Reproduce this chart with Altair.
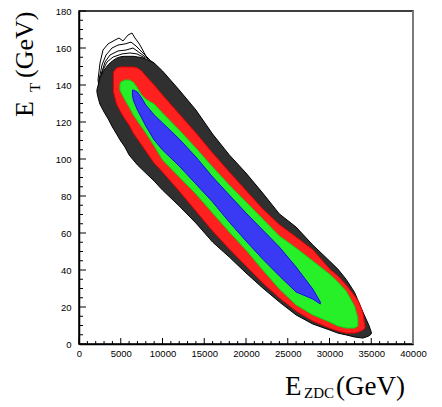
import altair as alt
import pandas as pd

# ---------------- axis tick values ----------------
X_MAJOR = [0, 5000, 10000, 15000, 20000, 25000, 30000, 35000, 40000]
X_MINOR = [v for v in range(0, 40001, 1000) if v % 5000]
Y_MAJOR = [0, 20, 40, 60, 80, 100, 120, 140, 160, 180]
Y_MINOR = [v for v in range(0, 181, 5) if v % 20]

# ---------------- contour levels (E_ZDC, E_T upper / lower boundary) ----------------
BLACK_X = [2150, 2300, 2500, 3000, 3500, 4000, 4500, 5000, 5500, 6000, 6500, 7000, 7500, 8000,
           9000, 10000, 12000, 14000, 16000, 18000, 20000, 22000, 24000, 26000, 28000, 30000,
           31000, 32000, 33000, 34000, 34700, 35000]
BLACK_HI = [137.5, 140.0, 144.0, 148.0, 151.0, 153.0, 154.5, 155.3, 155.5, 155.5, 155.5, 155.2,
            154.8, 154.1, 151.9, 147.6, 137.3, 126.5, 113.5, 102.2, 92.4, 81.6, 70.3, 63.2, 53.5,
            44.9, 40.5, 34.9, 27.9, 17.3, 10.3, 6.5]
BLACK_LO = [136.0, 133.0, 129.7, 125.4, 121.6, 117.3, 113.5, 109.7, 106.5, 102.2, 99.5, 96.8,
            94.6, 92.4, 88.1, 83.2, 74.6, 65.4, 55.1, 47.0, 38.4, 30.3, 22.7, 15.7, 10.8, 7.6,
            5.9, 4.9, 3.8, 3.2, 4.3, 5.4]

RED_X = [4130, 4500, 5000, 5500, 6000, 6500, 7000, 7500, 8000, 9000, 10000, 12000, 14000,
         16000, 18000, 20000, 22000, 24000, 26000, 28000, 30000, 31000, 32000, 33000, 33500,
         34000, 34250]
RED_HI = [147.0, 149.2, 149.7, 149.7, 149.7, 149.7, 149.2, 147.6, 144.9, 140.0, 134.6, 124.3,
          114.1, 103.2, 93.0, 83.0, 73.0, 64.5, 57.8, 51.0, 40.6, 36.8, 31.9, 26.1, 22.7, 16.8,
          9.7]
RED_LO = [136.2, 129.7, 125.4, 121.6, 118.4, 114.1, 110.8, 107.6, 104.3, 97.8, 93.0, 82.7,
          71.9, 61.1, 51.4, 42.2, 33.0, 24.9, 17.8, 12.4, 8.6, 7.0, 5.9, 5.9, 6.5, 7.6, 8.6]

GREEN_X = [4900, 5000, 5500, 6000, 6500, 7000, 7500, 8000, 9000, 10000, 12000, 14000, 16000,
           18000, 20000, 22000, 24000, 26000, 28000, 30000, 31000, 32000, 33000, 33400]
GREEN_HI = [140.0, 141.6, 142.7, 142.7, 141.6, 138.4, 134.6, 132.4, 129.7, 124.9, 115.7, 105.9,
            95.7, 85.9, 76.8, 67.6, 58.4, 51.9, 44.9, 37.8, 33.5, 28.6, 20.5, 14.1]
GREEN_LO = [137.3, 136.2, 131.9, 128.1, 123.8, 120.5, 117.3, 114.1, 107.0, 99.5, 90.3, 81.1,
            70.8, 60.5, 50.8, 40.0, 29.7, 21.1, 15.7, 11.9, 9.7, 8.6, 8.6, 9.7]

BLUE_X = [6400, 6500, 7000, 7500, 8000, 9000, 10000, 12000, 14000, 16000, 18000, 20000, 22000,
          24000, 26000, 28000, 28900]
BLUE_HI = [137.3, 137.3, 136.2, 133.0, 129.2, 123.8, 119.5, 110.8, 101.1, 90.3, 80.5, 70.8,
           61.6, 52.4, 41.6, 29.7, 22.7]
BLUE_LO = [134.6, 131.9, 126.5, 122.2, 117.8, 110.3, 104.9, 96.2, 86.5, 76.8, 65.9, 55.7, 45.9,
           36.8, 28.1, 24.3, 21.6]

# outer (sparse) black contour lines at the top-left end
L1_X = [2635, 2275, 2515, 2874, 3473, 4311, 4790, 5270, 5868, 6347, 6706, 7066, 7305, 8144, 9102]
L1_Y = [133.0, 142.7, 151.9, 158.9, 162.2, 164.3, 165.4, 163.8, 167.0, 168.1, 165.4, 163.2,
        161.6, 154.6, 151.4]
L2_X = [2515, 2395, 2754, 3234, 3952, 4671, 5509, 6227, 6826, 7545, 8503]
L2_Y = [131.9, 142.7, 150.8, 156.2, 160.0, 161.6, 162.2, 163.2, 161.1, 157.8, 153.5]
L3_X = [2635, 2635, 3114, 3713, 4671, 5629, 6467, 7305, 8263]
L3_Y = [130.3, 145.4, 152.4, 156.2, 158.4, 158.9, 160.0, 157.3, 154.1]
L4_X = [2754, 2754, 3353, 4072, 5150, 6108, 6946, 7904]
L4_Y = [128.6, 147.0, 152.4, 155.1, 156.8, 157.3, 156.8, 154.6]

# titles
X_TITLE = ["E", "ZDC", "(GeV)"]
Y_TITLE = ["E", "T", "(GeV)"]

# ---------------- build ----------------
xscale = alt.Scale(domain=[0, 40000], nice=False, zero=False)
yscale = alt.Scale(domain=[0, 180], nice=False, zero=False)

x_axis = alt.Axis(values=X_MAJOR, format="d", title=None, ticks=False, grid=False,
                  domainColor="black", domainWidth=1.5, labelFont="Liberation Sans",
                  labelFontSize=9.5, labelColor="black", labelPadding=4,
                  labelOverlap=False, labelFlush=False)
y_axis = alt.Axis(values=Y_MAJOR, format="d", title=None, ticks=False, grid=False,
                  domainColor="black", domainWidth=1.5, labelFont="Liberation Sans",
                  labelFontSize=9.5, labelColor="black", labelPadding=8,
                  labelOverlap=False, labelFlush=False)


def X(field=None, datum=None):
    if datum is not None:
        return alt.X(datum=datum, scale=xscale, axis=x_axis)
    return alt.X(field, type="quantitative", scale=xscale, axis=x_axis)


def Y(field=None, datum=None):
    if datum is not None:
        return alt.Y(datum=datum, scale=yscale, axis=y_axis)
    return alt.Y(field, type="quantitative", scale=yscale, axis=y_axis)


def band(xs, his, los, fill, stroke):
    df = pd.DataFrame({"x": xs, "hi": his, "lo": los})
    return alt.Chart(df).mark_area(fill=fill, stroke=stroke, strokeWidth=1,
                                   orient="vertical", opacity=1).encode(
        x=X("x"), y=Y("lo"), y2="hi:Q",
    )


rows = []
for name, xs, ys in [("L1", L1_X, L1_Y), ("L2", L2_X, L2_Y), ("L3", L3_X, L3_Y), ("L4", L4_X, L4_Y)]:
    for i, (a, b) in enumerate(zip(xs, ys)):
        rows.append({"line": name, "ord": i, "x": a, "y": b})
lines_df = pd.DataFrame(rows)

sparse = alt.Chart(lines_df).mark_line(color="black", strokeWidth=1).encode(
    x=X("x"), y=Y("y"), detail="line:N", order="ord:Q",
)

black = band(BLACK_X, BLACK_HI, BLACK_LO, "#303030", "black")
red = band(RED_X, RED_HI, RED_LO, "#ff2020", "#e80000")
green = band(GREEN_X, GREEN_HI, GREEN_LO, "#28f028", "#10d010")
blue = band(BLUE_X, BLUE_HI, BLUE_LO, "#3a3af5", "#1010e0")


def xticks(vals, size):
    return alt.Chart(pd.DataFrame({"v": vals})).mark_tick(
        orient="vertical", size=size, thickness=1, color="black", opacity=1,
        yOffset=-size / 2).encode(x=X("v"), y=Y(datum=0))


def yticks(vals, size):
    return alt.Chart(pd.DataFrame({"v": vals})).mark_tick(
        orient="horizontal", size=size, thickness=1, color="black", opacity=1,
        xOffset=size / 2).encode(y=Y("v"), x=X(datum=0))


right_edge = alt.Chart(alt.Data(values=[{"v": 40000}])).mark_rule(
    color="#7a7a7a", strokeWidth=2).encode(x=X("v"))

one = alt.Data(values=[{}])


def txt(s, size, x, y, angle=0):
    kw = dict(text=s, font="Liberation Serif", fontSize=size, align="left",
              baseline="alphabetic", color="black")
    if angle:
        kw["angle"] = angle
    return alt.Chart(one).mark_text(**kw).encode(x=alt.value(x), y=alt.value(y))


titles = [
    txt(X_TITLE[0], 27, 206, 384),
    txt(X_TITLE[1], 15, 225, 387),
    txt(X_TITLE[2], 27, 257, 384),
    txt(Y_TITLE[0], 26, -46, 106, 270),
    txt(Y_TITLE[1], 15, -39, 81, 270),
    txt(Y_TITLE[2], 26, -46, 67, 270),
]

chart = alt.layer(
    sparse, black, red, green, blue,
    xticks(X_MAJOR, 6), xticks(X_MINOR, 3),
    yticks(Y_MAJOR, 7), yticks(Y_MINOR, 4),
    right_edge, *titles,
).properties(
    width=334, height=333,
    autosize=alt.AutoSizeParams(type="none"),
    padding={"left": 79, "top": 11, "right": 29, "bottom": 63},
).configure_view(stroke="black", strokeWidth=1.5)

chart.save("out.html", embed_options={"renderer": "svg", "actions": False})
